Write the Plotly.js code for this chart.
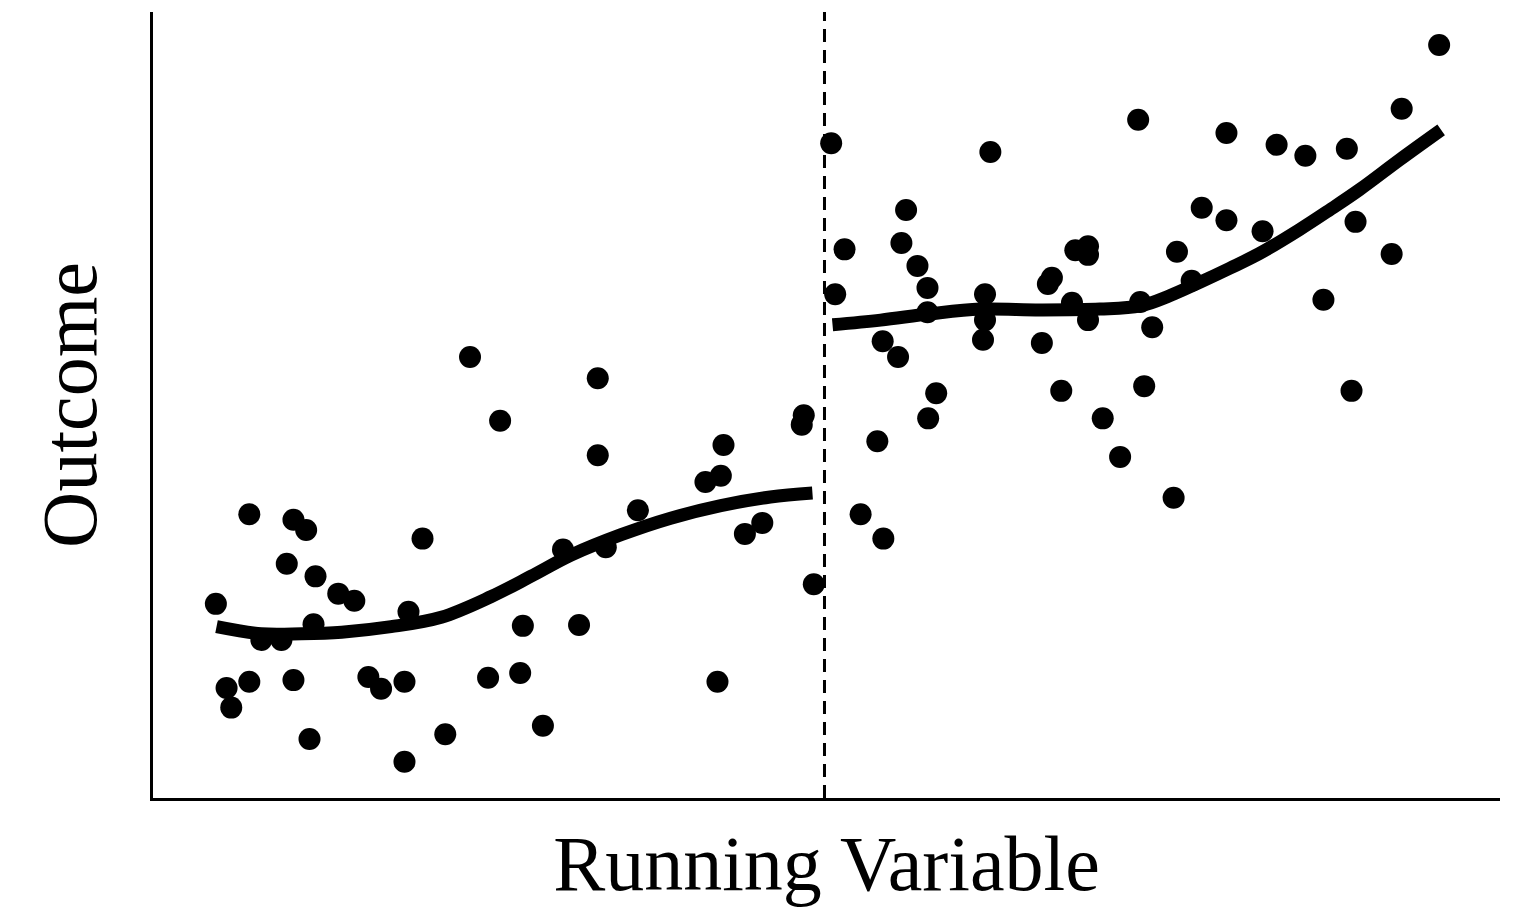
<!DOCTYPE html>
<html>
<head>
<meta charset="utf-8">
<script src="https://cdn.plot.ly/plotly-3.0.1.min.js"></script>
<style>html,body{margin:0;padding:0;background:#fff;}#chart{width:1536px;height:908px;}</style>
</head>
<body>
<div id="chart"></div>
<script>
// Running variable (cutoff at 0) and outcome
const leftX = [-91.0,-86.0,-79.4,-77.5,-80.4,-76.1,-72.7,-70.3,-60.1,-62.2,-76.4,-84.2,-81.2,-86.0,-89.4,-88.7,-79.4,-68.2,-66.3,-62.8,-50.3,-45.5,-77.0,-56.7,-62.8,-42.1,-45.1,-36.7,-53.0,-33.9,-48.5,-33.9,-39.1,-32.7,-27.9,-17.8,-15.5,-15.1,-11.9,-9.3,-16.0,-3.1,-3.4,-1.6];
const leftY = [24.7,36.1,35.4,34.1,29.8,28.2,26.0,25.1,33.0,23.7,22.1,20.1,20.1,14.8,14.0,11.5,15.0,15.4,13.9,14.8,15.3,15.9,7.5,8.1,4.6,9.2,21.9,22.0,56.1,53.4,48.0,43.6,31.6,31.9,36.6,40.2,41.0,44.9,33.6,35.0,14.8,48.7,47.5,27.2];

const rightX = [1.0,24.8,46.9,12.2,3.0,11.5,13.9,15.4,1.6,24.0,34.0,33.4,37.5,39.4,39.4,37.0,39.4,47.2,49.0,15.4,24.0,8.7,11.0,23.7,32.5,16.7,15.5,35.4,47.8,41.6,44.2,7.9,5.4,8.8,52.2,60.1,67.6,71.9,78.1,86.3,91.9,56.4,60.1,65.5,52.7,54.9,79.4,84.8,74.6,78.8];
const rightY = [83.3,82.2,86.3,74.8,69.8,70.6,67.7,64.9,64.1,64.1,66.2,65.4,69.7,70.2,69.1,63.0,60.8,63.1,59.9,61.8,60.8,58.1,56.1,58.3,57.9,51.5,48.3,51.8,52.4,48.3,43.4,45.4,36.1,33.0,38.2,84.6,83.1,81.7,82.6,87.7,95.8,75.1,73.5,72.1,69.5,65.8,73.3,69.2,63.4,51.8];

// Fitted curves on each side of the cutoff
const fitLeftX = [-90.9,-84.2,-78.2,-72.2,-64.8,-57.3,-49.9,-43.9,-37.9,-30.4,-23.0,-15.5,-8.1,-1.8];
const fitLeftY = [21.8,20.9,20.9,21.1,21.8,23.0,25.6,28.2,30.9,33.5,35.6,37.2,38.3,38.8];
const fitRightX = [1.2,8.4,15.8,23.3,32.2,41.2,47.2,51.6,56.1,60.6,65.1,71.0,75.5,80.0,86.0,92.2];
const fitRightY = [60.2,60.8,61.6,62.2,62.1,62.2,62.6,63.9,65.6,67.4,69.3,72.3,74.8,77.4,81.2,85.0];

const cutoff = 0;
const xTitle = "Running Variable";
const yTitle = "Outcome";

const marker = {color: "#000", size: 22};
const fitLine = {color: "#000", width: 13, shape: "spline"};

const traces = [
  {x: leftX, y: leftY, mode: "markers", type: "scatter", marker: marker, hoverinfo: "skip"},
  {x: rightX, y: rightY, mode: "markers", type: "scatter", marker: marker, hoverinfo: "skip"},
  {x: fitLeftX, y: fitLeftY, mode: "lines", type: "scatter", line: fitLine, hoverinfo: "skip"},
  {x: fitRightX, y: fitRightY, mode: "lines", type: "scatter", line: fitLine, hoverinfo: "skip"}
];

const font = {family: "Liberation Serif, DejaVu Serif, serif", size: 78, color: "#000"};

const layout = {
  width: 1536, height: 908,
  margin: {l: 153, r: 36, t: 12, b: 110, pad: 0},
  paper_bgcolor: "#fff", plot_bgcolor: "#fff",
  showlegend: false,
  xaxis: {
    range: [-100.4, 101.0], showgrid: false, zeroline: false,
    showticklabels: false, ticks: "", showline: true, linecolor: "#000", linewidth: 3,
    title: {text: xTitle, font: font, standoff: 36}
  },
  yaxis: {
    range: [0, 100], showgrid: false, zeroline: false,
    showticklabels: false, ticks: "", showline: true, linecolor: "#000", linewidth: 3,
    title: {text: yTitle, font: font, standoff: 28}
  },
  shapes: [{
    type: "line", xref: "x", yref: "y", x0: cutoff, x1: cutoff, y0: 0, y1: 100,
    line: {color: "#000", width: 3, dash: "13px,8px"}
  }]
};

Plotly.newPlot("chart", traces, layout, {staticPlot: true, displayModeBar: false});
</script>
</body>
</html>
